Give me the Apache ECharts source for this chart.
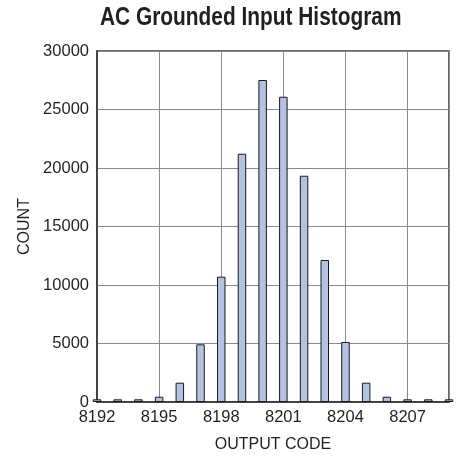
<!DOCTYPE html>
<html>
<head>
<meta charset="utf-8">
<script src="https://cdn.jsdelivr.net/npm/echarts@6/dist/echarts.min.js"></script>
<style>
html,body{margin:0;padding:0;background:#fff;}
#chart{width:457px;height:474px;}
</style>
</head>
<body>
<div id="chart"></div>
<script>
var titleText = 'AC Grounded Input Histogram';
var xName = 'OUTPUT CODE';
var yName = 'COUNT';
var codes = [8192, 8193, 8194, 8195, 8196, 8197, 8198, 8199, 8200, 8201, 8202, 8203, 8204, 8205, 8206, 8207, 8208, 8209];
var counts = [230, 230, 230, 450, 1650, 4930, 10710, 21220, 27520, 26090, 19340, 12140, 5130, 1650, 450, 230, 230, 230];
var xMin = 8192, xMax = 8209, xStep = 3;
var yMin = 0, yMax = 30000, yStep = 5000;

var FONT = '"Liberation Sans", Arial, sans-serif';
var chart = echarts.init(document.getElementById('chart'), null, {renderer: 'canvas'});
var data = codes.map(function (c, i) { return [c, counts[i]]; });
chart.setOption({
  animation: false,
  backgroundColor: '#fff',
  graphic: [{
    type: 'text',
    x: 100, y: 6,
    scaleX: 0.835,
    style: {
      text: titleText,
      fontFamily: FONT, fontWeight: 'bold', fontSize: 25,
      fill: '#231f20', textVerticalAlign: 'top', textAlign: 'left'
    }
  }],
  grid: {
    left: 97, right: 8, top: 51, bottom: 72,
    containLabel: false, outerBoundsMode: 'none',
    show: true, borderColor: '#333', borderWidth: 1.5, backgroundColor: 'transparent'
  },
  xAxis: {
    type: 'value', min: xMin, max: xMax, interval: xStep,
    name: xName, nameLocation: 'middle', nameGap: 35,
    nameTextStyle: {fontFamily: FONT, fontSize: 16, color: '#231f20'},
    axisLine: {show: true, lineStyle: {color: '#333', width: 1.5}},
    axisTick: {show: false},
    axisLabel: {fontFamily: FONT, fontSize: 16.5, color: '#231f20', margin: 7, showMaxLabel: false,
      formatter: function (v) { return String(v); }},
    splitLine: {show: true, lineStyle: {color: '#8a8a8a', width: 1}}
  },
  yAxis: {
    type: 'value', min: yMin, max: yMax, interval: yStep,
    name: yName, nameLocation: 'middle', nameGap: 61, nameRotate: 90,
    nameTextStyle: {fontFamily: FONT, fontSize: 16, color: '#231f20'},
    axisLine: {show: true, lineStyle: {color: '#333', width: 1.5}},
    axisTick: {show: false},
    axisLabel: {fontFamily: FONT, fontSize: 16.5, color: '#231f20', margin: 8,
      formatter: function (v) { return String(v); }},
    splitLine: {show: true, lineStyle: {color: '#8a8a8a', width: 1}}
  },
  series: [{
    type: 'bar',
    data: data,
    barWidth: 8.5,
    clip: true,
    itemStyle: {color: '#b3c2e2', borderColor: '#1a1a1a', borderWidth: 1}
  }]
});
</script>
</body>
</html>
